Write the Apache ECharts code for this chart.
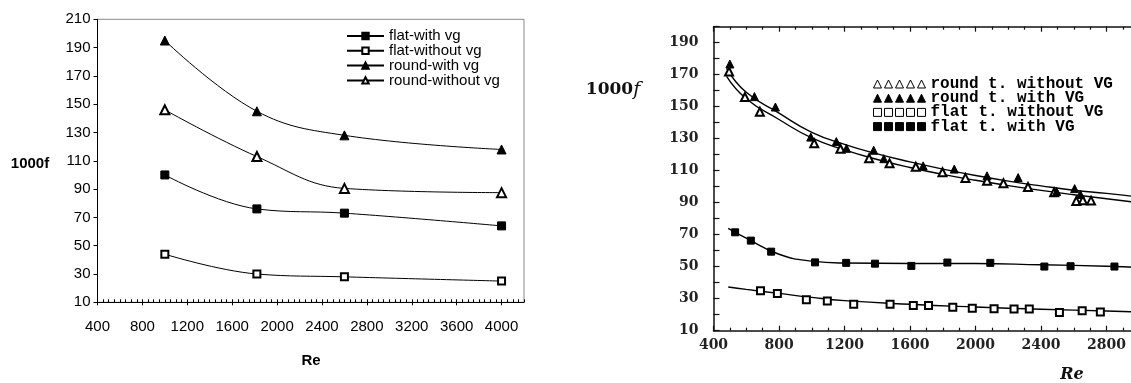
<!DOCTYPE html>
<html>
<head>
<meta charset="utf-8">
<script src="https://cdn.jsdelivr.net/npm/echarts@6/dist/echarts.min.js"></script>
<style>
  html, body { margin: 0; padding: 0; overflow: hidden; background: #fff; }
  #chart { width: 1200px; height: 383px; }
</style>
</head>
<body>
<div id="chart"></div>
<script>
// left panel: measured data
var reLeft = [1000, 1820, 2600, 4000];
var flatWithVg = [100, 76, 73, 64];
var flatWithoutVg = [44, 30, 28, 25];
var roundWithVg = [195, 145, 128, 118];
var roundWithoutVg = [146, 113, 90.5, 87.5];

// right panel: scattered points
var reRoundWithout = [495, 592, 683, 1015, 1175, 1350, 1475, 1635, 1798, 1938, 2070, 2170, 2320, 2480, 2615, 2655, 2705];
var valRoundWithout = [172, 156, 146.8, 127.2, 123.7, 117.8, 114.6, 112.5, 109, 105.5, 103.7, 102.2, 99.8, 96.5, 91, 91.5, 91.3];
var reRoundWith = [500, 650, 778, 994, 1150, 1212, 1378, 1440, 1680, 1870, 2070, 2260, 2495, 2605, 2640];
var valRoundWith = [176.7, 156.3, 149.8, 131, 128.2, 124, 122.8, 117.5, 113, 111, 106.8, 105.7, 97, 98.8, 95.2];
var reFlatWithout = [687, 790, 967, 1095, 1256, 1478, 1620, 1713, 1861, 1980, 2113, 2235, 2328, 2512, 2651, 2762];
var valFlatWithout = [35, 33.3, 29.3, 28.5, 26.6, 26.6, 25.7, 25.7, 24.6, 24.1, 23.7, 23.6, 23.6, 21.4, 22.5, 21.7];
var reFlatWith = [532, 628, 752, 1020, 1210, 1386, 1608, 1828, 2090, 2420, 2580, 2848];
var valFlatWith = [71.5, 66.3, 59.4, 52.7, 52.4, 51.9, 50.5, 52.6, 52.4, 50.1, 50.3, 50.1];

// right panel: fitted curves
var fitRoundRe = [480, 600, 800, 1000, 1200, 1400, 1600, 1800, 2000, 2200, 2400, 2600, 2800, 3000];
var fitRoundWith = [174, 159, 146, 134, 126.5, 120.5, 115.5, 111, 107, 103.5, 100.5, 97.8, 95.8, 93.5];
var fitRoundWithout = [169, 155, 142, 130.5, 123, 117, 112, 107.7, 104, 100.7, 97.7, 95, 92.5, 90];
var fitFlatRe = [490, 600, 800, 1000, 1200, 1600, 2000, 2400, 2800, 3000];
var fitFlatWith = [74, 67.8, 57.8, 53.5, 52.3, 52, 52, 51.2, 50.3, 49.5];
var fitFlatWithout = [37.3, 35.8, 33.3, 30.8, 28.8, 26.5, 24.8, 23.4, 22.3, 21.7];

function zip(xs, ys) {
  return xs.map(function (x, i) { return [x, ys[i]]; });
}
function plain(v) { return String(v); }

var triPath = 'path://M0,8L4,0L8,8Z M11,8L15,0L19,8Z M22,8L26,0L30,8Z M33,8L37,0L41,8Z M44,8L48,0L52,8Z';
var sqPath = 'path://M0,0H8V8H0Z M11,0H19V8H11Z M22,0H30V8H22Z M33,0H41V8H33Z M44,0H52V8H44Z';

var serifFont = '"DejaVu Serif", "Liberation Serif", serif';
var sansFont = '"Liberation Sans", Arial, sans-serif';

function leftLine(name, data, symbol, size) {
  return {
    name: name, type: 'line', xAxisIndex: 0, yAxisIndex: 0,
    data: zip(reLeft, data), smooth: 0.4,
    symbol: symbol, symbolSize: size,
    color: '#000',
    itemStyle: { color: '#000', borderColor: '#000', borderWidth: 1 },
    lineStyle: { color: '#000', width: 1 }
  };
}

function fitLine(xs, ys) {
  return {
    type: 'line', xAxisIndex: 2, yAxisIndex: 1,
    data: zip(xs, ys), smooth: 0.5, symbol: 'none', silent: true,
    lineStyle: { color: '#000', width: 1.4 }, z: 1
  };
}

function pts(name, xs, ys, symbol, size) {
  return {
    name: name, type: 'scatter', xAxisIndex: 2, yAxisIndex: 1,
    data: zip(xs, ys), symbol: symbol, symbolSize: size,
    itemStyle: { color: '#000', borderColor: '#000', borderWidth: 1, opacity: 1 }, z: 3
  };
}

var chart = echarts.init(document.getElementById('chart'));

var option = {
  animation: false,
  backgroundColor: '#fff',
  grid: [
    { left: 97.5, top: 19.3, width: 426.5, height: 283, show: true, borderColor: '#8a8a8a', borderWidth: 1 },
    { left: 713.5, top: 26.7, width: 458.6, height: 304 }
  ],
  xAxis: [
    {
      gridIndex: 0, type: 'value', min: 400, max: 4200, interval: 400,
      axisLine: { lineStyle: { color: '#000', width: 1 } },
      axisTick: { show: true, inside: false, length: 3, lineStyle: { color: '#000' } },
      axisLabel: { color: '#000', fontSize: 15, fontFamily: sansFont, margin: 17, showMaxLabel: false, formatter: plain },
      splitLine: { show: false }
    },
    {
      gridIndex: 0, type: 'value', min: 400, max: 4200, interval: 400, position: 'bottom',
      axisLine: { show: false },
      axisTick: { show: true, inside: true, length: 3, lineStyle: { color: '#000' } },
      minorTick: { show: true, splitNumber: 8, length: 3, lineStyle: { color: '#000' } },
      axisLabel: { show: false },
      splitLine: { show: false }
    },
    {
      gridIndex: 1, type: 'value', min: 400, max: 3200, interval: 400,
      axisLine: { lineStyle: { color: '#111', width: 1.5 } },
      axisTick: { show: true, inside: true, length: 5, lineStyle: { color: '#111', width: 1.2 } },
      minorTick: { show: true, splitNumber: 4, length: 3, lineStyle: { color: '#111', width: 1.2 } },
      axisLabel: { color: '#222', fontSize: 14, fontWeight: 'bold', fontFamily: serifFont, margin: 8, showMaxLabel: false, formatter: plain },
      splitLine: { show: false }
    },
    {
      gridIndex: 1, type: 'value', min: 400, max: 3200, interval: 400, position: 'top',
      axisLine: { lineStyle: { color: '#111', width: 1.5 } },
      axisTick: { show: true, inside: true, length: 5, lineStyle: { color: '#111', width: 1.2 } },
      minorTick: { show: true, splitNumber: 4, length: 3, lineStyle: { color: '#111', width: 1.2 } },
      axisLabel: { show: false },
      splitLine: { show: false }
    }
  ],
  yAxis: [
    {
      gridIndex: 0, type: 'value', min: 10, max: 210, interval: 20,
      axisLine: { show: true, lineStyle: { color: '#000', width: 1 } },
      axisTick: { show: true, inside: false, length: 4, lineStyle: { color: '#000' } },
      axisLabel: { color: '#000', fontSize: 15, fontFamily: sansFont, margin: 7 },
      splitLine: { show: false }
    },
    {
      gridIndex: 1, type: 'value', min: 10, max: 200, interval: 20,
      axisLine: { show: true, lineStyle: { color: '#111', width: 1.5 } },
      axisTick: { show: true, inside: true, length: 6, lineStyle: { color: '#111', width: 1.2 } },
      minorTick: { show: true, splitNumber: 2, length: 6, lineStyle: { color: '#111', width: 1.2 } },
      axisLabel: { color: '#222', fontSize: 14, fontWeight: 'bold', fontFamily: serifFont, margin: 15, showMaxLabel: false },
      splitLine: { show: false }
    }
  ],
  legend: [
    {
      orient: 'vertical', left: 341, top: 23.5, itemWidth: 37, itemHeight: 8, itemGap: -0.2,
      textStyle: { color: '#000', fontSize: 15, fontFamily: sansFont, lineHeight: 14 },
      data: ['flat-with vg', 'flat-without vg', 'round-with vg', 'round-without vg']
    },
    {
      orient: 'vertical', left: 868, top: 71, itemWidth: 52, itemHeight: 8, itemGap: -1.8,
      textStyle: { color: '#000', fontSize: 16, fontWeight: 'bold', fontFamily: '"Liberation Mono", "DejaVu Sans Mono", monospace', lineHeight: 13 },
      data: [
        { name: 'round t. without VG', icon: triPath, itemStyle: { color: '#fff', borderColor: '#000', borderWidth: 1 } },
        { name: 'round t. with VG', icon: triPath, itemStyle: { color: '#000', borderColor: '#000', borderWidth: 1 } },
        { name: 'flat t. without VG', icon: sqPath, itemStyle: { color: '#fff', borderColor: '#000', borderWidth: 1 } },
        { name: 'flat t. with VG', icon: sqPath, itemStyle: { color: '#000', borderColor: '#000', borderWidth: 1 } }
      ]
    }
  ],
  graphic: [
    { type: 'text', x: 30, y: 164, style: { text: '1000f', font: 'bold 15px ' + sansFont, fill: '#000', align: 'center', verticalAlign: 'middle' } },
    { type: 'text', x: 311, y: 361, style: { text: 'Re', font: 'bold 15px ' + sansFont, fill: '#000', align: 'center', verticalAlign: 'middle' } },
    {
      type: 'text', x: 613, y: 90,
      style: {
        text: '{a|1000}{b|f}', align: 'center', verticalAlign: 'middle',
        rich: {
          a: { fontSize: 17, fontFamily: serifFont, fill: '#111', fontWeight: 'bold' },
          b: { fontSize: 19, fontFamily: serifFont, fontStyle: 'italic', fill: '#111' }
        }
      }
    },
    { type: 'text', x: 1072, y: 375, style: { text: 'Re', font: 'italic bold 16px ' + serifFont, fill: '#111', align: 'center', verticalAlign: 'middle' } }
  ],
  series: [
    leftLine('flat-with vg', flatWithVg, 'rect', 8),
    leftLine('flat-without vg', flatWithoutVg, 'emptyRect', 7),
    leftLine('round-with vg', roundWithVg, 'triangle', 9),
    leftLine('round-without vg', roundWithoutVg, 'emptyTriangle', 9),
    fitLine(fitRoundRe, fitRoundWith),
    fitLine(fitRoundRe, fitRoundWithout),
    fitLine(fitFlatRe, fitFlatWith),
    fitLine(fitFlatRe, fitFlatWithout),
    pts('round t. without VG', reRoundWithout, valRoundWithout, 'emptyTriangle', 8),
    pts('round t. with VG', reRoundWith, valRoundWith, 'triangle', 8),
    pts('flat t. without VG', reFlatWithout, valFlatWithout, 'emptyRect', 7),
    pts('flat t. with VG', reFlatWith, valFlatWith, 'rect', 7)
  ]
};

chart.setOption(option);
</script>
</body>
</html>
